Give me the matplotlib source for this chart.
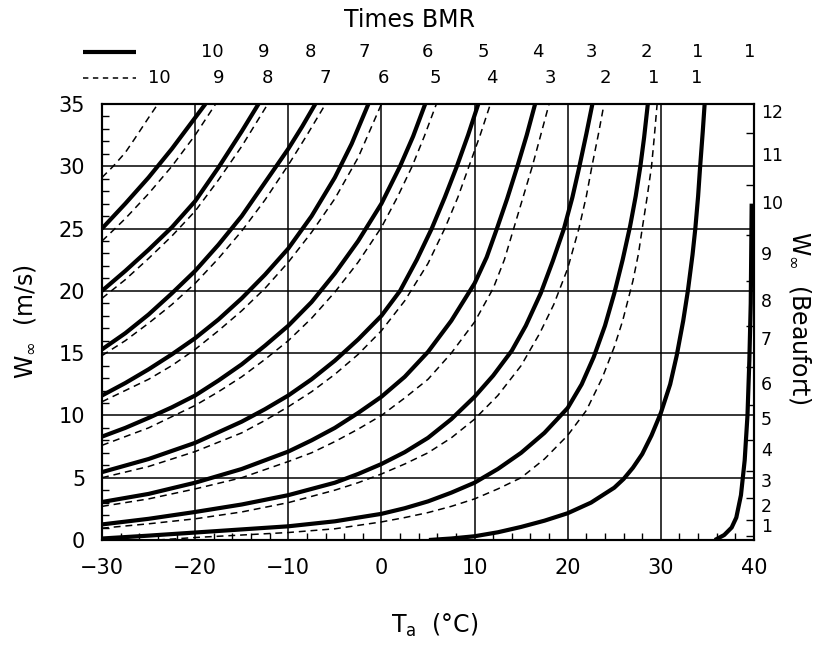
import matplotlib
matplotlib.use("Agg")
import matplotlib.pyplot as plt
import matplotlib.transforms as mtransforms
from matplotlib.ticker import MultipleLocator, FixedLocator
from matplotlib.lines import Line2D

plt.rcParams['font.family'] = ['DejaVu Sans']
plt.rcParams['mathtext.fontset'] = 'dejavusans'

# ---------------- data ----------------
# solid curves (Times BMR 10 ... 1, 1)
s10_T = [-30, -27.5, -25, -22.5, -20, -18.9]
s10_W = [25.0, 27.0, 29.1, 31.4, 33.9, 35.0]
s9_T = [-30, -27.5, -25, -22.5, -20, -17.5, -15, -13.2]
s9_W = [20.0, 21.6, 23.3, 25.1, 27.2, 29.9, 32.8, 35.0]
s8_T = [-30, -27.5, -25, -22.5, -20, -17.5, -15, -12.5, -10, -8.5, -7.1]
s8_W = [15.3, 16.6, 18.1, 19.8, 21.6, 23.7, 26.0, 28.7, 31.4, 33.2, 35.0]
s7_T = [-30, -27.5, -25, -22.5, -20, -17.5, -15, -12.5, -10, -7.5, -5, -3.2, -1.4]
s7_W = [11.6, 12.6, 13.7, 14.9, 16.2, 17.7, 19.4, 21.3, 23.4, 26.0, 29.1, 31.8, 35.0]
s6_T = [-30, -27.5, -25, -22.5, -20, -17.5, -15, -12.5, -10, -7.5, -5, -2.5, 0, 2, 3.4, 4.7]
s6_W = [8.3, 9.0, 9.8, 10.65, 11.6, 12.8, 14.1, 15.6, 17.2, 19.1, 21.4, 24.0, 27.0, 30.0, 32.4, 35.0]
s5_T = [-30, -25, -20, -15, -12.5, -10, -7.5, -5, -2.5, 0, 2, 3.8, 5.4, 6.8, 8.1, 9.3, 10.4]
s5_W = [5.45, 6.5, 7.8, 9.5, 10.5, 11.6, 12.9, 14.4, 16.1, 18.0, 20.0, 22.5, 25.0, 27.5, 30.0, 32.5, 35.0]
s4_T = [-30, -25, -20, -15, -10, -7.5, -5, -2.5, 0, 2.5, 5, 7.5, 10, 11.3, 12.4, 13.5, 14.6, 15.6, 16.5]
s4_W = [3.05, 3.7, 4.6, 5.7, 7.1, 8.0, 9.0, 10.2, 11.5, 13.1, 15.1, 17.6, 20.6, 22.7, 25.0, 27.4, 30.0, 32.5, 35.0]
s3_T = [-30, -25, -20, -15, -10, -5, -2.5, 0, 2.5, 5, 7.5, 10, 12, 14, 15.5, 17.1, 18.4,
        19.6, 20.5, 21.2, 22.0, 22.65]
s3_W = [1.25, 1.7, 2.25, 2.85, 3.6, 4.6, 5.3, 6.1, 7.05, 8.2, 9.7, 11.5, 13.2, 15.2, 17.2, 19.8, 22.4,
        25.0, 27.5, 29.8, 32.6, 35.0]
s2_T = [-30, -25, -20, -15, -10, -5, 0, 2.5, 5, 7.5, 10, 12.5, 15, 17.5, 20, 21.5, 22.8, 24.0,
        25.0, 25.9, 26.7, 27.3, 27.8, 28.2, 28.6]
s2_W = [0.12, 0.35, 0.6, 0.85, 1.1, 1.5, 2.1, 2.55, 3.1, 3.8, 4.6, 5.7, 7.0, 8.6, 10.6, 12.5, 14.7, 17.2,
        19.8, 22.5, 25.2, 27.6, 30.0, 32.3, 35.0]
s1_T = [5.1, 7.5, 10, 12.5, 15, 17.5, 20, 22.5, 25, 26, 27, 28, 29, 30, 31, 31.7, 32.4, 32.9,
        33.4, 33.7, 34.0, 34.2, 34.5, 34.7]
s1_W = [0.0, 0.12, 0.3, 0.62, 1.05, 1.55, 2.15, 3.0, 4.2, 4.9, 5.8, 6.9, 8.4, 10.2, 12.5, 14.8, 17.6, 20.0,
        22.9, 25.0, 27.6, 29.8, 32.8, 35.0]
s1b_T = [35.8, 36.8, 37.6, 38.1, 38.6, 39.0, 39.3, 39.5, 39.65, 39.75]
s1b_W = [0.0, 0.4, 1.0, 1.8, 3.6, 6.4, 10.0, 14.4, 19.0, 27.0]

# dashed curves (Times BMR 10 ... 1)
d10_T = [-30, -28.8, -27.5, -26.5, -25, -24.0]
d10_W = [29.1, 30.0, 31.1, 32.2, 33.9, 35.0]
d9_T = [-30, -28.6, -27.5, -25, -22.5, -20, -17.8]
d9_W = [24.0, 25.0, 25.8, 27.8, 30.0, 32.5, 35.0]
d8_T = [-30, -27.5, -25, -22.5, -20, -17.5, -15, -12.2]
d8_W = [19.4, 20.9, 22.6, 24.4, 26.4, 28.9, 31.6, 35.0]
d7_T = [-30, -27.5, -25, -22.5, -20, -17.5, -15, -12.5, -10, -8, -6.0]
d7_W = [14.8, 16.0, 17.4, 18.9, 20.6, 22.6, 24.8, 27.3, 30.1, 32.5, 35.0]
d6_T = [-30, -27.5, -25, -22.5, -20, -17.5, -15, -12.5, -10, -7.5, -5, -2.5, 0.0]
d6_W = [11.1, 12.0, 12.9, 14.0, 15.3, 16.8, 18.4, 20.2, 22.3, 24.7, 27.4, 30.7, 35.0]
d5_T = [-30, -27.5, -25, -22.5, -20, -17.5, -15, -12.5, -10, -7.5, -5, -2.5, 0, 1.7, 3.3, 4.6, 5.9]
d5_W = [7.6, 8.3, 9.0, 9.9, 10.8, 11.9, 13.1, 14.5, 16.0, 17.8, 19.9, 22.3, 25.1, 27.5, 30.0, 32.4, 35.0]
d4_T = [-30, -25, -20, -15, -12.5, -10, -7.5, -5, -2.5, 0, 2.5, 5, 6.8, 8.2, 9.4, 10.6, 11.7]
d4_W = [5.0, 5.9, 7.1, 8.6, 9.6, 10.7, 11.9, 13.3, 14.9, 16.8, 19.2, 22.2, 25.0, 27.5, 30.0, 32.5, 35.0]
d3_T = [-30, -25, -20, -15, -10, -7.5, -5, -2.5, 0, 2.5, 5, 7.5, 10, 12, 13.2, 14.2, 15.2, 16.2,
        17.1, 18.0]
d3_W = [2.7, 3.3, 4.1, 5.0, 6.3, 7.0, 7.9, 8.9, 10.0, 11.4, 12.9, 15.0, 17.5, 20.2, 22.5, 25.0, 27.5, 30.0,
        32.5, 35.0]
d2_T = [-30, -25, -20, -15, -10, -5, -2.5, 0, 2.5, 5, 7.5, 10, 12.5, 15, 17, 18.5, 20, 21.2, 22.0,
        22.6, 23.3, 23.9]
d2_W = [0.95, 1.3, 1.7, 2.25, 3.0, 4.0, 4.6, 5.3, 6.1, 7.0, 8.2, 9.7, 11.6, 14.0, 16.6, 18.9, 21.8, 25.0,
        27.6, 30.0, 32.6, 35.0]
d1_T = [-24, -20, -15, -10, -5, 0, 2.5, 5, 7.5, 10, 12.5, 15, 17.5, 20, 22, 23.7, 25, 25.9, 27.0,
        27.6, 28.0, 28.5, 29.0, 29.3, 29.6]
d1_W = [0.0, 0.2, 0.4, 0.6, 0.9, 1.45, 1.8, 2.2, 2.7, 3.3, 4.1, 5.0, 6.5, 8.4, 10.4, 13.0, 15.5, 17.6, 20.8,
        23.0, 25.0, 27.4, 30.0, 32.4, 35.0]

# top labels (Times BMR) and their x positions (deg C)
solid_labels = ['10', '9', '8', '7', '6', '5', '4', '3', '2', '1', '1']
solid_label_T = [-18.2, -12.7, -7.6, -1.8, 4.9, 10.9, 16.8, 22.5, 28.4, 34.0, 39.5]
dashed_labels = ['10', '9', '8', '7', '6', '5', '4', '3', '2', '1', '1']
dashed_label_T = [-23.8, -17.5, -12.2, -6.0, 0.2, 5.8, 11.9, 18.1, 24.0, 29.2, 33.8]

# Beaufort scale (right axis)
beaufort_labels = ['1', '2', '3', '4', '5', '6', '7', '8', '9', '10', '11', '12']
beaufort_label_W = [1.2, 2.8, 4.8, 7.3, 9.8, 12.6, 16.2, 19.3, 23.0, 27.1, 31.0, 34.4]
beaufort_bounds_W = [0.3, 1.6, 3.4, 5.5, 8.0, 10.8, 13.9, 17.2, 20.8, 24.5, 28.5, 32.7]

x_ticks = [-30, -20, -10, 0, 10, 20, 30, 40]
y_ticks = [0, 5, 10, 15, 20, 25, 30, 35]

solid_curves = [(s10_T, s10_W), (s9_T, s9_W), (s8_T, s8_W), (s7_T, s7_W),
                (s6_T, s6_W), (s5_T, s5_W), (s4_T, s4_W), (s3_T, s3_W),
                (s2_T, s2_W), (s1_T, s1_W), (s1b_T, s1b_W)]
dashed_curves = [(d10_T, d10_W), (d9_T, d9_W), (d8_T, d8_W), (d7_T, d7_W),
                 (d6_T, d6_W), (d5_T, d5_W), (d4_T, d4_W), (d3_T, d3_W),
                 (d2_T, d2_W), (d1_T, d1_W)]

# ---------------- figure ----------------
W_PX, H_PX = 814, 647
fig = plt.figure(figsize=(W_PX / 100, H_PX / 100), dpi=100)
ax = fig.add_axes([102 / W_PX, 1 - 540 / H_PX, (754 - 102) / W_PX, (540 - 104) / H_PX])

ax.set_xlim(-30, 40)
ax.set_ylim(0, 35)
ax.set_xticks(x_ticks)
ax.set_yticks(y_ticks)
ax.xaxis.set_minor_locator(MultipleLocator(2))
ax.yaxis.set_minor_locator(MultipleLocator(1))
ax.grid(True, which='major', color='black', lw=1.1)
ax.set_axisbelow(True)
ax.tick_params(axis='both', which='major', length=0, labelsize=15, colors='black')
ax.tick_params(axis='x', which='major', pad=13)
ax.tick_params(axis='y', which='major', pad=12)
ax.tick_params(which='minor', direction='in', length=5, width=1.0,
               top=False, right=False)
for sp in ax.spines.values():
    sp.set_linewidth(1.5)
    sp.set_color('black')

for T, Wv in solid_curves:
    ax.plot(T, Wv, color='black', lw=3.0, solid_capstyle='butt',
            solid_joinstyle='round', zorder=3)
for T, Wv in dashed_curves:
    ax.plot(T, Wv, color='black', lw=1.1, linestyle=(0, (4.5, 3.2)), zorder=3)

# right Beaufort axis
ax2 = ax.twinx()
ax2.set_ylim(0, 35)
ax2.set_yticks(beaufort_label_W)
ax2.set_yticklabels(beaufort_labels)
ax2.yaxis.set_minor_locator(FixedLocator(beaufort_bounds_W))
ax2.tick_params(axis='y', which='major', length=0, pad=5, labelsize=12.5)
ax2.tick_params(axis='y', which='minor', direction='in', length=6, width=1.0)
for sp in ax2.spines.values():
    sp.set_linewidth(1.5)

# top labels
trans = mtransforms.blended_transform_factory(ax.transData, ax.transAxes)
for lab, t in zip(solid_labels, solid_label_T):
    ax.text(t, (540 - 52) / 436, lab, transform=trans, ha='center', va='center',
            fontsize=13)
for lab, t in zip(dashed_labels, dashed_label_T):
    ax.text(t, (540 - 78) / 436, lab, transform=trans, ha='center', va='center',
            fontsize=13)

fig.add_artist(Line2D([83 / W_PX, 136 / W_PX], [1 - 52 / H_PX, 1 - 52 / H_PX],
                      color='black', lw=3.0, solid_capstyle='butt'))
fig.add_artist(Line2D([83 / W_PX, 136 / W_PX], [1 - 78 / H_PX, 1 - 78 / H_PX],
                      color='black', lw=1.1, linestyle=(0, (3.5, 3.0))))

fig.text(410 / W_PX, 1 - 20 / H_PX, 'Times BMR', ha='center', va='center', fontsize=17)

# axis labels
fig.text(25 / W_PX, 1 - 322 / H_PX, r'$\mathregular{W_{\infty}}$  (m/s)',
         rotation=90, ha='center', va='center', fontsize=17)
fig.text(435 / W_PX, 1 - 625 / H_PX, r'$\mathregular{T_{a}}$  (°C)',
         ha='center', va='center', fontsize=17)
fig.text(800 / W_PX, 1 - 318 / H_PX, r'$\mathregular{W_{\infty}}$  (Beaufort)',
         rotation=270, ha='center', va='center', fontsize=17)

fig.savefig('out.png', dpi=100)
